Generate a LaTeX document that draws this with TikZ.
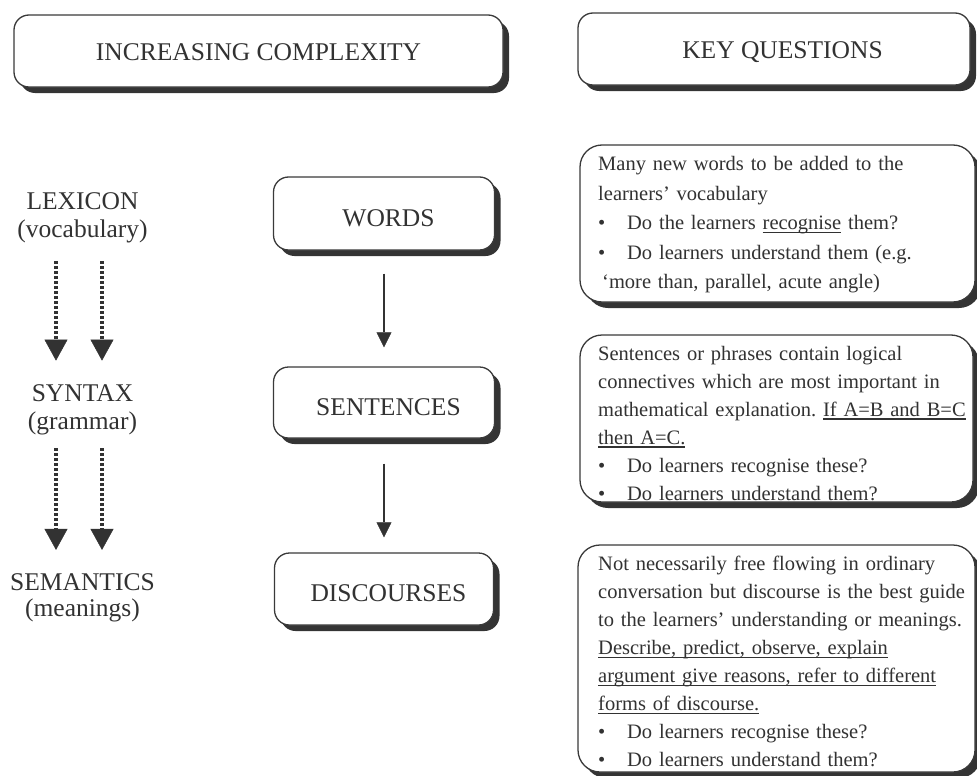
\documentclass[tikz,border=0pt]{standalone}
\usepackage{fontspec}
\setmainfont{Liberation Serif}
\usetikzlibrary{arrows.meta,shadows}
\definecolor{ink}{RGB}{50,50,50}
\definecolor{edge}{RGB}{58,58,58}
\definecolor{shade}{RGB}{52,52,52}
% underline drawn as a rule a little below the baseline
\newcommand\ul[1]{\leavevmode\setbox0\hbox{#1}\rlap{\rule[-3.5pt]{\wd0}{1.1pt}}\box0\relax}
% bullet followed by a fixed indent
\newcommand\bul{\makebox[29pt][l]{\textbullet}}

\tikzset{
  panel/.style={draw=edge, line width=1.3pt, fill=white, rounded corners=15pt,
    drop shadow={shadow xshift=6pt, shadow yshift=-6pt, opacity=1, fill=shade}},
  bigtext/.style={font=\fontsize{25.5}{30}\selectfont, text=ink},
  midbox/.style={panel, bigtext, text height=25pt, text depth=0pt,
    execute at begin node={\hspace*{9pt}}},
  label/.style={bigtext, inner sep=0pt, anchor=base},
  body/.style={font=\fontsize{20.5}{28}\selectfont, text=ink, text width=420pt,
    align=left, inner sep=0pt, anchor=base west},
  dotarrow/.style={draw=ink, line width=3.5pt, dash pattern=on 3pt off 2pt,
    -{Triangle[width=23pt,length=21pt,line width=0.5pt]}},
  solidarrow/.style={draw=ink, line width=2pt,
    -{Triangle[width=15pt,length=15pt,line width=0.5pt]}},
}

\begin{document}
\frenchspacing
\begin{tikzpicture}[x=1pt,y=-1pt]
\useasboundingbox (0,0) rectangle (977,776);

% column headings
\node[panel, bigtext, minimum width=489pt, minimum height=72pt,
  text height=19pt, text depth=0pt] (hdr1) at (258.5,51) {INCREASING COMPLEXITY};
\node[panel, bigtext, minimum width=392pt, minimum height=72pt,
  text height=19pt, text depth=0pt] (hdr2) at (774,49) {\hspace*{17pt}KEY QUESTIONS};

% left column: levels of language
\node[label] (lex) at (82.5,209.3) {LEXICON};
\node[label] (lexsub) at (82.5,237.4) {(vocabulary)};
\node[label] (syn) at (82.5,401.7) {SYNTAX};
\node[label] (synsub) at (82.5,429.5) {(grammar)};
\node[label] (sem) at (82.5,590) {SEMANTICS};
\node[label] (semsub) at (82.5,616.5) {(meanings)};

\draw[dotarrow, shorten <=18pt, shorten >=24pt]
  ([xshift=-26.5pt]lexsub.south) -- ([xshift=-26.5pt]syn.north);
\draw[dotarrow, shorten <=18pt, shorten >=24pt]
  ([xshift=19.5pt]lexsub.south) -- ([xshift=19.5pt]syn.north);
\draw[dotarrow, shorten <=13pt, shorten >=23pt]
  ([xshift=-26.5pt]synsub.south) -- ([xshift=-26.5pt]sem.north);
\draw[dotarrow, shorten <=13pt, shorten >=23pt]
  ([xshift=19.5pt]synsub.south) -- ([xshift=19.5pt]sem.north);

% middle column: units of language
\node[midbox, minimum width=221pt, minimum height=73pt] (words) at (384,213.5) {WORDS};
\node[midbox, minimum width=221pt, minimum height=71pt] (sent) at (384,402.5) {SENTENCES};
\node[midbox, minimum width=219pt, minimum height=72pt] (disc) at (384,589) {DISCOURSES};

\draw[solidarrow, shorten <=23pt, shorten >=19pt] (words) -- (sent);
\draw[solidarrow, shorten <=25pt, shorten >=15pt] (sent) -- (disc);

% right column: key questions
\node[panel, rounded corners=22pt, minimum width=395pt, minimum height=157pt]
  (q1) at (777.5,223.5) {};
\node[panel, rounded corners=22pt, minimum width=393pt, minimum height=167pt]
  (q2) at (776.5,418.5) {};
\node[panel, rounded corners=22pt, minimum width=397pt, minimum height=227pt]
  (q3) at (776.5,658.5) {};

\node[body, font=\fontsize{20.5}{29.5}\selectfont] (q1text) at (598,170.5)
  {Many new words to be added to the\\
   learners’ vocabulary\\
   \bul Do the learners \ul{recognise} them?\\
   \bul Do learners understand them (e.g.\\
   \hspace*{4pt}‘more than, parallel, acute angle)};

\node[body] (q2text) at (598,360)
  {Sentences or phrases contain logical\\
   connectives which are most important in\\
   mathematical explanation. \ul{If A=B and B=C}\\
   \ul{then A=C.}\\
   \bul Do learners recognise these?\\
   \bul Do learners understand them?};

\node[body, font=\fontsize{20.5}{28.1}\selectfont] (q3text) at (598,570)
  {Not necessarily free flowing in ordinary\\
   conversation but discourse is the best guide\\
   to the learners’ understanding or meanings.\\
   \ul{Describe, predict, observe, explain}\\
   \ul{argument give reasons, refer to different}\\
   \ul{forms of discourse.}\\
   \bul Do learners recognise these?\\
   \bul Do learners understand them?};
\end{tikzpicture}
\end{document}
